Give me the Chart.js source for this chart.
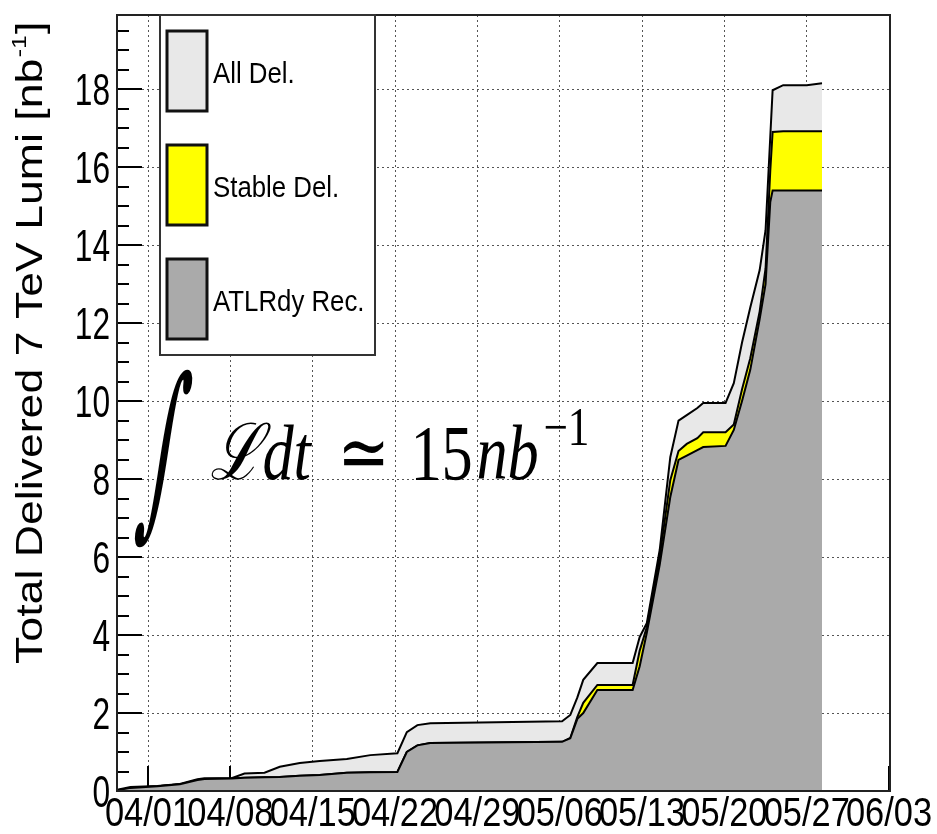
<!DOCTYPE html>
<html>
<head>
<meta charset="utf-8">
<script src="https://cdn.jsdelivr.net/npm/chart.js@4.4.1/dist/chart.umd.min.js"></script>
<style>
  html, body { margin: 0; padding: 0; background: #fff; }
  #wrap { width: 937px; height: 834px; }
</style>
</head>
<body>
<div id="wrap"><canvas id="lumiChart" width="937" height="834"></canvas></div>
<script>
// Días contados desde el 04/01 (eje x lineal)
const days = [-2.6, -1.5, 0.8, 2.7, 4.2, 4.8, 7.1, 8.2, 9.9, 11.2,
              12.9, 14.6, 16.9, 18.9, 21.2, 22.0, 22.9, 24.0, 35.2, 35.9,
              36.5, 37.0, 38.2, 41.2, 41.8, 42.4, 43.5, 44.4, 45.1, 45.8,
              46.7, 47.2, 49.1, 49.8, 50.5, 51.2, 52.0, 52.5, 52.9, 53.1,
              54.0, 56.0, 57.3];

// Luminosidad integrada [nb-1]
const allDelivered = [0.03, 0.10, 0.13, 0.18, 0.30, 0.33, 0.33, 0.45, 0.47, 0.62,
                      0.72, 0.77, 0.82, 0.92, 0.97, 1.51, 1.69, 1.74, 1.79, 1.95,
                      2.40, 2.85, 3.28, 3.28, 3.95, 4.30, 6.18, 8.56, 9.50, 9.64,
                      9.82, 9.95, 9.95, 10.46, 11.50, 12.40, 13.36, 14.38, 16.77, 17.97,
                      18.10, 18.10, 18.15];
const stableDelivered = [0.02, 0.08, 0.12, 0.17, 0.28, 0.31, 0.32, 0.34, 0.35, 0.36,
                         0.39, 0.41, 0.47, 0.48, 0.49, 1.00, 1.17, 1.23, 1.26, 1.36,
                         1.90, 2.26, 2.72, 2.72, 3.60, 4.20, 6.00, 7.97, 8.72, 8.90,
                         9.05, 9.20, 9.20, 9.40, 10.30, 11.10, 12.30, 13.40, 15.90, 16.90,
                         16.92, 16.92, 16.92];
const atlReadyRecorded = [0.02, 0.08, 0.12, 0.17, 0.28, 0.31, 0.32, 0.34, 0.35, 0.36,
                          0.39, 0.41, 0.47, 0.48, 0.49, 1.00, 1.17, 1.23, 1.26, 1.35,
                          1.85, 2.00, 2.59, 2.59, 3.20, 4.05, 5.80, 7.54, 8.49, 8.60,
                          8.74, 8.82, 8.85, 9.26, 10.00, 10.80, 12.10, 13.00, 15.10, 15.40,
                          15.40, 15.40, 15.40];

const seriesLabels = ['All Del.', 'Stable Del.', 'ATLRdy Rec.'];
const seriesColors = ['#e8e8e8', '#ffff00', '#aaaaaa'];

const dateLabels = ['04/01', '04/08', '04/15', '04/22', '04/29',
                    '05/06', '05/13', '05/20', '05/27', '06/03'];
const yTickValues = [0, 2, 4, 6, 8, 10, 12, 14, 16, 18];

const yTitle = 'Total Delivered 7 TeV Lumi [nb';
const formulaAt = [5.3, 8.0];

const sans = '"Liberation Sans", Arial, sans-serif';
const serif = '"Liberation Serif", "DejaVu Serif", serif';

function toPoints(vals) {
    return days.map((d, i) => ({ x: d, y: vals[i] }));
}

// texto estrecho (la imagen original está comprimida en horizontal)
function narrowText(ctx, text, x, y, font, sx, align) {
    ctx.save();
    ctx.font = font;
    const w = ctx.measureText(text).width * sx;
    let x0 = x;
    if (align === 'right') x0 = x - w;
    else if (align === 'center') x0 = x - w / 2;
    ctx.translate(x0, y);
    ctx.scale(sx, 1);
    ctx.textAlign = 'left';
    ctx.fillText(text, 0, 0);
    ctx.restore();
    return w;
}

// Marcas interiores de los ejes (estilo ROOT)
const ticksPlugin = {
    id: 'ticksInside',
    beforeDatasetsDraw(chart) {
        const { ctx, chartArea: a, scales: { x, y } } = chart;
        ctx.save();
        ctx.strokeStyle = '#000';
        ctx.lineWidth = 2;
        for (let v = 0; v <= y.max; v += 0.5) {
            const py = Math.round(y.getPixelForValue(v));
            const len = (v % 2 === 0) ? 25 : 12;
            ctx.beginPath();
            ctx.moveTo(a.left, py);
            ctx.lineTo(a.left + len, py);
            ctx.stroke();
        }
        x.ticks.forEach(t => {
            const px = Math.round(x.getPixelForValue(t.value));
            ctx.beginPath();
            ctx.moveTo(px, a.bottom);
            ctx.lineTo(px, a.bottom - 25);
            ctx.stroke();
        });
        ctx.restore();
    }
};

// Marco, etiquetas de los ejes y fórmula
const frameFormulaPlugin = {
    id: 'frameFormula',
    afterDatasetsDraw(chart) {
        const { ctx, chartArea: a, scales: { x, y } } = chart;
        ctx.save();
        ctx.strokeStyle = '#222';
        ctx.lineWidth = 2;
        ctx.strokeRect(a.left, a.top, a.right - a.left, a.bottom - a.top);

        ctx.fillStyle = '#000';
        ctx.textBaseline = 'alphabetic';
        y.ticks.forEach(t => {
            const py = y.getPixelForValue(t.value);
            narrowText(ctx, String(t.value), a.left - 7, py + 16, '44px ' + sans, 0.72, 'right');
        });
        x.ticks.forEach((t, i) => {
            const px = x.getPixelForValue(t.value);
            narrowText(ctx, dateLabels[i], px, a.bottom + 35, '41px ' + sans, 0.84, 'center');
        });

        const bx = x.getPixelForValue(formulaAt[0]);
        const by = y.getPixelForValue(formulaAt[1]);

        // integral: estrecha, alta e inclinada
        ctx.save();
        ctx.translate(bx - 74, by + 34);
        ctx.transform(0.67, 0, -0.25, 1.72, 0, 0);
        ctx.font = '110px "DejaVu Serif", serif';
        ctx.fillText('\u222B', 0, 0);
        ctx.restore();

        const parts = [
            { t: '\u2112dt', dx: 0, font: 'italic 78px ' + serif, dy: 0 },
            { t: '\u2243', dx: 127, font: '78px ' + serif, dy: 0 },
            { t: '15', dx: 200, font: '78px ' + serif, dy: 0 },
            { t: 'nb', dx: 266, font: 'italic 78px ' + serif, dy: 0 },
            { t: '\u22121', dx: 333, font: '54px ' + serif, dy: -34 }
        ];
        parts.forEach(p => {
            ctx.save();
            ctx.translate(bx + p.dx, by + p.dy);
            ctx.scale(0.8, 1);
            ctx.font = p.font;
            ctx.fillText(p.t, 0, 0);
            ctx.restore();
        });
        ctx.restore();
    }
};

// Leyenda y título del eje y
const legendTitlePlugin = {
    id: 'legendTitle',
    afterDraw(chart) {
        const { ctx, chartArea: a } = chart;
        ctx.save();
        const x0 = a.left + 43, y0 = a.top, w = 215, h = 340;
        ctx.fillStyle = '#fff';
        ctx.fillRect(x0, y0, w, h);
        ctx.strokeStyle = '#333';
        ctx.lineWidth = 2;
        ctx.strokeRect(x0, y0, w, h);
        const items = chart.data.datasets.slice().reverse();
        items.forEach((ds, i) => {
            const top = y0 + 16 + i * 114;
            ctx.fillStyle = ds.backgroundColor;
            ctx.fillRect(x0 + 7, top, 40, 80);
            ctx.strokeStyle = '#111';
            ctx.lineWidth = 3;
            ctx.strokeRect(x0 + 7, top, 40, 80);
            ctx.fillStyle = '#000';
            ctx.textBaseline = 'alphabetic';
            narrowText(ctx, ds.label, x0 + 53, top + 52, '30px ' + sans, 0.86, 'left');
        });

        // título rotado
        ctx.translate(42, a.bottom - 127);
        ctx.rotate(-Math.PI / 2);
        ctx.scale(1.24, 1);
        ctx.textBaseline = 'alphabetic';
        ctx.font = '36px ' + sans;
        ctx.fillText(yTitle, 0, 0);
        const w1 = ctx.measureText(yTitle).width;
        ctx.font = '20px ' + sans;
        ctx.fillText('-1', w1 + 1, -16);
        const w2 = ctx.measureText('-1').width;
        ctx.font = '36px ' + sans;
        ctx.fillText(']', w1 + w2 + 2, 0);
        ctx.restore();
    }
};

const ctx = document.getElementById('lumiChart').getContext('2d');
const seriesData = [atlReadyRecorded, stableDelivered, allDelivered];
const seriesIdx = [2, 1, 0];

const lumiChart = new Chart(ctx, {
    type: 'line',
    data: {
        datasets: seriesIdx.map((k, i) => ({
            label: seriesLabels[k],
            data: toPoints(seriesData[i]),
            backgroundColor: seriesColors[k],
            borderColor: '#000',
            borderWidth: 2,
            fill: 'origin',
            pointRadius: 0,
            tension: 0
        }))
    },
    options: {
        responsive: false,
        animation: false,
        layout: { padding: { top: 15, right: 47, left: 0, bottom: 0 } },
        plugins: {
            legend: { display: false },
            tooltip: { enabled: false }
        },
        scales: {
            x: {
                type: 'linear',
                min: -2.64,
                max: 63.08,
                afterBuildTicks: scale => {
                    scale.ticks = dateLabels.map((_, i) => ({ value: i * 7 }));
                },
                afterFit: scale => {
                    scale.height = 43;
                    scale.paddingLeft = 0;
                    scale.paddingRight = 0;
                },
                ticks: { display: false },
                grid: { color: '#555', lineWidth: 1, drawTicks: false },
                border: { display: false, dash: [2, 3] }
            },
            y: {
                type: 'linear',
                min: 0,
                max: 19.9,
                afterBuildTicks: scale => {
                    scale.ticks = yTickValues.map(v => ({ value: v }));
                },
                afterFit: scale => {
                    scale.width = 117;
                    scale.paddingTop = 0;
                    scale.paddingBottom = 0;
                },
                ticks: { display: false },
                grid: { color: '#555', lineWidth: 1, drawTicks: false },
                border: { display: false, dash: [2, 3] }
            }
        }
    },
    plugins: [ticksPlugin, frameFormulaPlugin, legendTitlePlugin]
});
</script>
</body>
</html>
